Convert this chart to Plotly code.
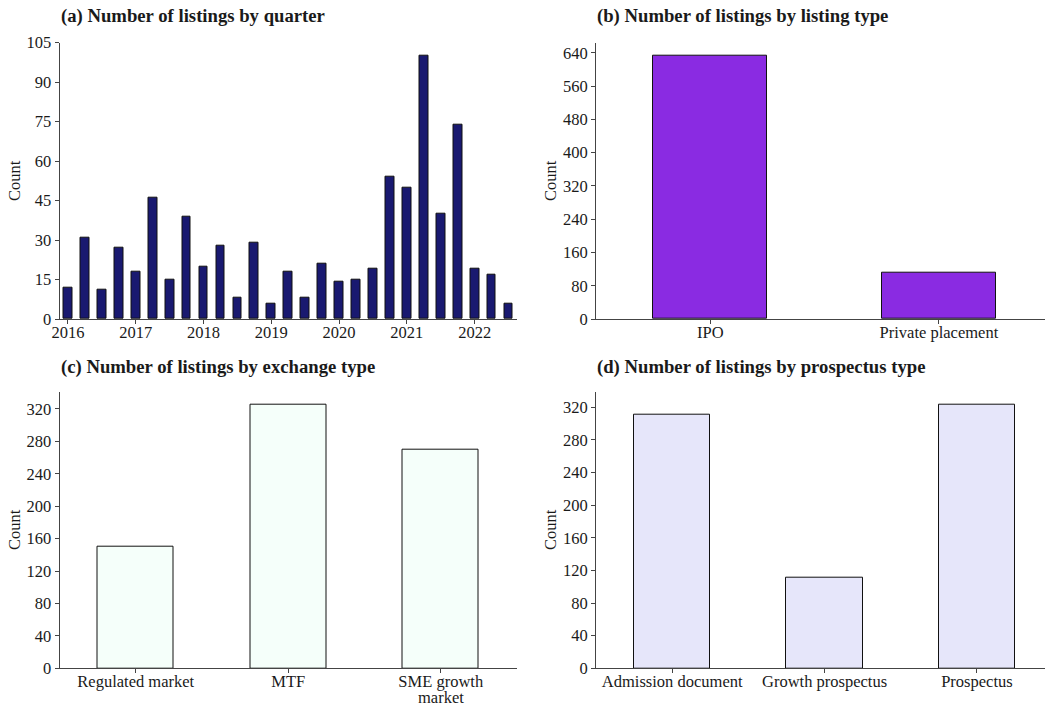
import plotly.graph_objects as go

# Quarterly listing counts, 2016 Q1 .. 2022 Q3
quarters = [f"{y}Q{q}" for y in range(2016, 2023) for q in range(1, 5)][:27]
quarter_counts = [12, 31, 11, 27, 18, 46, 15, 39, 20, 28, 8, 29, 6, 18,
                  8, 21, 14, 15, 19, 54, 50, 100, 40, 74, 19, 17, 6]
year_ticks = ["2016Q1", "2017Q1", "2018Q1", "2019Q1", "2020Q1", "2021Q1", "2022Q1"]
year_labels = ["2016", "2017", "2018", "2019", "2020", "2021", "2022"]

listing_types = ["IPO", "Private placement"]
listing_counts = [633, 112]

exchange_types = ["Regulated market", "MTF", "SME growth market"]
exchange_counts = [150, 325, 270]
# the long category label wraps onto two lines
exchange_labels = ["Regulated market", "MTF", "SME growth"]
exchange_wrap = "market"

prospectus_types = ["Admission document", "Growth prospectus", "Prospectus"]
prospectus_counts = [311, 111, 323]

W, H = 1045, 710
FONT = "Liberation Serif"
TXT = "#1a1a1a"
AX = "#444444"
TICK_SIZE = 16.5

def px_x(p):
    return p / W

def px_y(p):
    return 1 - p / H

fig = go.Figure()

def bar(x, y, color, xa, ya, width=0.5):
    fig.add_trace(go.Bar(
        x=x, y=y, width=width, marker=dict(color=color, line=dict(color="#111111", width=1)),
        xaxis=xa, yaxis=ya, showlegend=False, hoverinfo="x+y"))

bar(quarters, quarter_counts, "#191970", "x", "y", width=0.52)
bar(listing_types, listing_counts, "#8A2BE2", "x2", "y2")
bar(exchange_types, exchange_counts, "#F5FFFA", "x3", "y3")
bar(prospectus_types, prospectus_counts, "#E6E6FA", "x4", "y4")

axis_common = dict(
    showline=True, linecolor=AX, linewidth=1, showgrid=False, zeroline=False,
    ticks="outside", ticklen=4, tickcolor=AX, tickwidth=1, automargin=False,
    tickfont=dict(family=FONT, size=TICK_SIZE, color=TXT), fixedrange=True,
)
xtick_shift = dict(ticklabelstandoff=-6)

top_dom = [px_y(319), px_y(42.7)]
bot_dom = [px_y(668.3), px_y(391.7)]
left_dom = [px_x(59.5), px_x(517)]
right_dom = [px_x(596), 1.0]

fig.update_layout(
    template="none",
    width=W, height=H, margin=dict(l=0, r=0, t=0, b=0, pad=0),
    paper_bgcolor="white", plot_bgcolor="white", bargap=0,
    font=dict(family=FONT, color=TXT),
    xaxis=dict(domain=left_dom, anchor="y", range=[-0.5, 26.5],
               tickmode="array", tickvals=year_ticks, ticktext=year_labels,
               **xtick_shift, **axis_common),
    yaxis=dict(domain=top_dom, anchor="x", range=[0, 105],
               tickmode="array", tickvals=list(range(0, 106, 15)), **axis_common),
    xaxis2=dict(domain=right_dom, anchor="y2", range=[-0.5, 1.464],
                **xtick_shift, **axis_common),
    yaxis2=dict(domain=top_dom, anchor="x2", range=[0, 664.6],
                tickmode="array", tickvals=list(range(0, 641, 80)), **axis_common),
    xaxis3=dict(domain=left_dom, anchor="y3", range=[-0.5, 2.5],
                tickmode="array", tickvals=exchange_types, ticktext=exchange_labels,
                **xtick_shift, **axis_common),
    yaxis3=dict(domain=bot_dom, anchor="x3", range=[0, 341.25],
                tickmode="array", tickvals=list(range(0, 321, 40)), **axis_common),
    xaxis4=dict(domain=right_dom, anchor="y4", range=[-0.5, 2.447],
                **xtick_shift, **axis_common),
    yaxis4=dict(domain=bot_dom, anchor="x4", range=[0, 339.15],
                tickmode="array", tickvals=list(range(0, 321, 40)), **axis_common),
)

fig.add_annotation(text=exchange_wrap, xref="x3", yref="paper",
                   x=exchange_types[2], y=px_y(697.5), xanchor="center", yanchor="middle",
                   showarrow=False, borderpad=0,
                   font=dict(family=FONT, size=TICK_SIZE, color=TXT))

titles = [
    ("(a) Number of listings by quarter", 59.5, 16),
    ("(b) Number of listings by listing type", 596, 16),
    ("(c) Number of listings by exchange type", 59.5, 366.5),
    ("(d) Number of listings by prospectus type", 596, 366.5),
]
for text, x, y in titles:
    fig.add_annotation(text=f"<b>{text}</b>", xref="paper", yref="paper",
                       x=px_x(x), y=px_y(y), xanchor="left", yanchor="middle",
                       showarrow=False, borderpad=0,
                       font=dict(family=FONT, size=18.7, color=TXT))

for x, y in [(14, 181), (550, 181), (14, 530), (550, 530)]:
    fig.add_annotation(text="Count", xref="paper", yref="paper",
                       x=px_x(x), y=px_y(y), xanchor="center", yanchor="middle",
                       textangle=-90, showarrow=False,
                       font=dict(family=FONT, size=TICK_SIZE, color=TXT))

fig.write_html("out.html")
